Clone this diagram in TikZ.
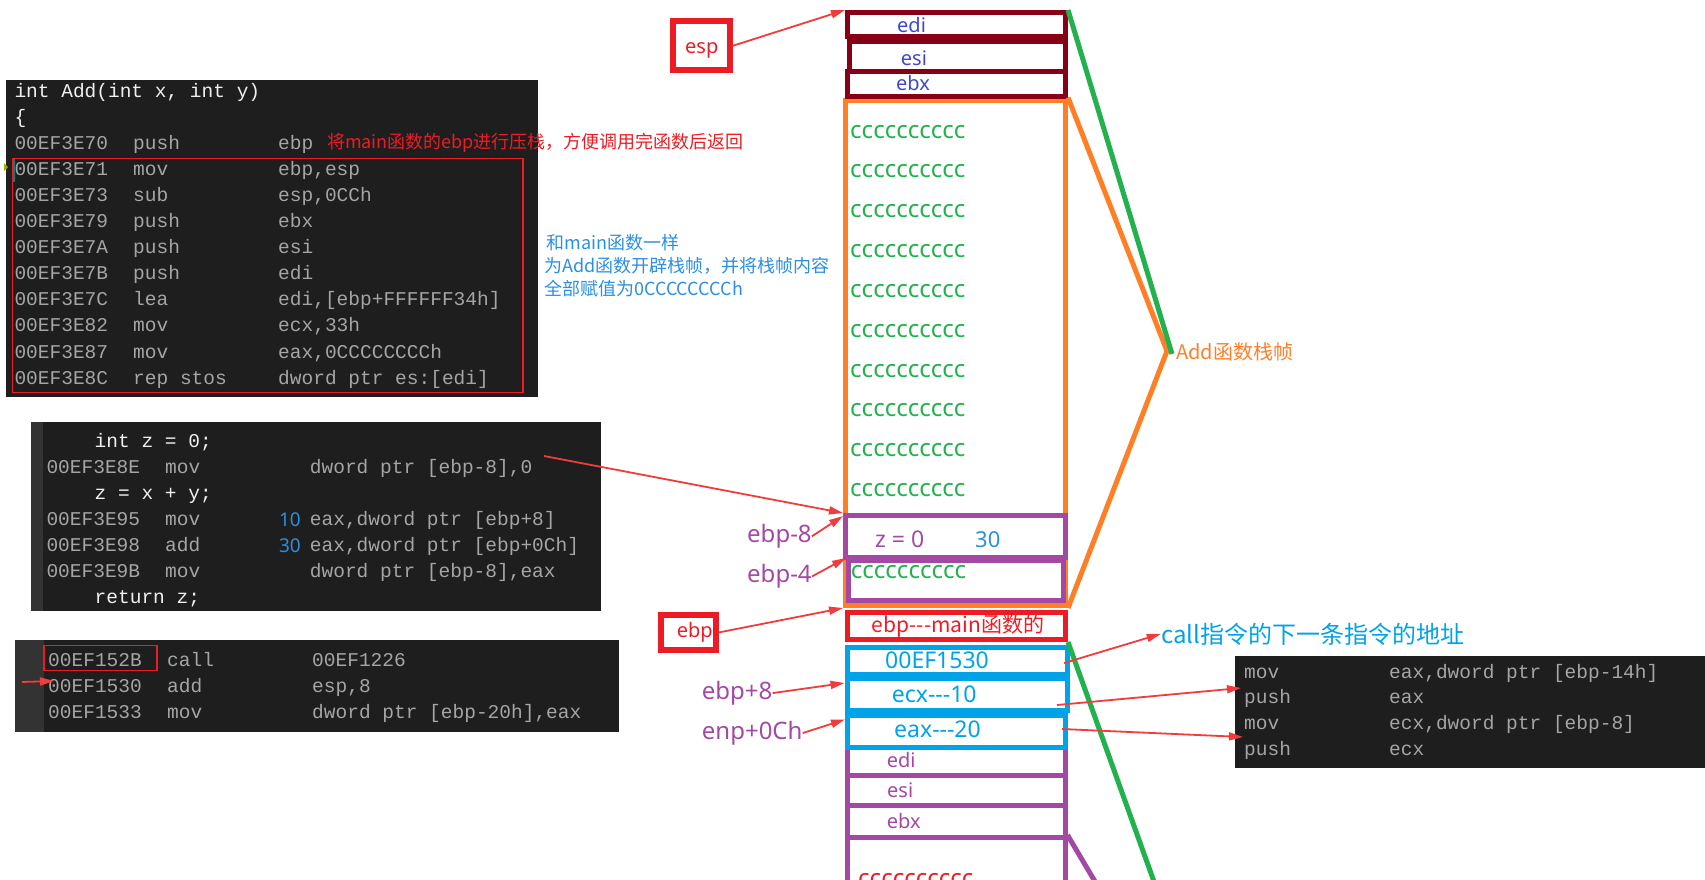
\documentclass[tikz,border=0pt]{standalone}
\usepackage{fontspec}
\setmainfont{Noto Sans}
\newfontfamily\monofnt{Liberation Mono}
\newfontfamily\cjkfnt{Noto Sans CJK SC}
\usetikzlibrary{arrows.meta}
\definecolor{CodeBg}{HTML}{1E1E1E}
\definecolor{CodeGutter}{HTML}{333333}
\definecolor{AsmGray}{HTML}{A5A5A5}
\definecolor{SrcWhite}{HTML}{F0F0F0}
\definecolor{StackMaroon}{HTML}{880015}
\definecolor{FrameOrange}{HTML}{FF7F27}
\definecolor{RangeGreen}{HTML}{22B14C}
\definecolor{SlotPurple}{HTML}{A349A4}
\definecolor{ArgBlue}{HTML}{00A2E8}
\definecolor{MarkRed}{HTML}{ED1C24}
\definecolor{ArrowRed}{HTML}{F03C3C}
\definecolor{RegBlue}{HTML}{3F48CC}
\definecolor{NoteBlue}{HTML}{2B8FE0}
\newcommand{\fsz}[1]{\fontsize{#1}{#1}\selectfont}
\newcommand{\tridash}{-\kern0pt-\kern0pt-}

\begin{document}
\begin{tikzpicture}[x=1pt,y=-1pt,
    asm/.style={anchor=base west,inner sep=0pt,font=\monofnt\fsz{19.5},text=AsmGray},
    src/.style={asm,text=SrcWhite},
    lbl/.style={anchor=base west,inner sep=0pt},
    slot/.style={draw,line width=5pt,inner sep=0pt},
    ptr/.style={draw=ArrowRed,line width=1.8pt,-{Triangle[length=14pt,width=8pt]}},
    edge/.style={line width=5pt}]
  \useasboundingbox (0,0) rectangle (1705,879);

  % code windows
  \fill[CodeBg] (6,80) rectangle (538,397);
  \fill[CodeBg] (31,422) rectangle (601,611);
  \fill[CodeGutter] (31,422) rectangle (43,611);
  \fill[CodeBg] (15,640) rectangle (619,732);
  \fill[CodeGutter] (15,640) rectangle (44,732);
  \fill[CodeBg] (1235,656) rectangle (1705,768);

  \node[src] (hdr) at (14.3,97) {int Add(int x, int y)};
  \node[src] (brace) at (14.3,123.1) {\{};
  \foreach \ln/\ad/\op/\ar in {2/00EF3E70/push/ebp,3/00EF3E71/mov/{ebp,esp},
      4/00EF3E73/sub/{esp,0CCh},5/00EF3E79/push/ebx,6/00EF3E7A/push/esi,
      7/00EF3E7B/push/edi,8/00EF3E7C/lea/{edi,[ebp+FFFFFF34h]},
      9/00EF3E82/mov/{ecx,33h},10/00EF3E87/mov/{eax,0CCCCCCCCh},
      11/00EF3E8C/rep stos/{dword ptr es:[edi]}}{
    \node[asm] (a\ln) at (14.3,97+26.1*\ln) {\ad};
    \node[asm] (o\ln) at (133,97+26.1*\ln) {\op};
    \node[asm] (r\ln) at (278,97+26.1*\ln) {\ar};
  }
  \draw[MarkRed,line width=1.2pt] (12.5,158.3) rectangle (523,392.7);
  \draw[teal,line width=2pt] (13.8,159) -- (13.8,182);
  \fill[olive!70!yellow] (4,163) -- (8,167) -- (4,171) -- cycle;
  \node[lbl,text=MarkRed,font=\cjkfnt\fsz{18}] (pushNote) at (326.8,148)
    {将main函数的ebp进行压栈，方便调用完函数后返回};

  \node[lbl,text=NoteBlue,font=\cjkfnt\fsz{18}] (noteA) at (546.7,249) {和main函数一样};
  \node[lbl,text=NoteBlue,font=\cjkfnt\fsz{18}] (noteB) at (544,272) {为Add函数开辟栈帧，并将栈帧内容};
  \node[lbl,text=NoteBlue,font=\cjkfnt\fsz{18}] (noteC) at (544,295.5) {全部赋值为0CCCCCCCCh};

  \node[src] (zDecl) at (94.5,447.3) {int z = 0;};
  \node[asm] (b1) at (46.3,473.3) {00EF3E8E};
  \node[asm] at (165,473.3) {mov};
  \node[asm] at (309.7,473.3) {dword ptr [ebp-8],0};
  \node[src] (zSum) at (94.5,499.3) {z = x + y;};
  \node[asm] (b2) at (46.3,525.3) {00EF3E95};
  \node[asm] at (165,525.3) {mov};
  \node[asm] at (309.7,525.3) {eax,dword ptr [ebp+8]};
  \node[asm] (b3) at (46.3,551.3) {00EF3E98};
  \node[asm] at (165,551.3) {add};
  \node[asm] at (309.7,551.3) {eax,dword ptr [ebp+0Ch]};
  \node[asm] (b4) at (46.3,577.3) {00EF3E9B};
  \node[asm] at (165,577.3) {mov};
  \node[asm] at (309.7,577.3) {dword ptr [ebp-8],eax};
  \node[src] (zRet) at (94.5,603.3) {return z;};
  \node[anchor=base east,inner sep=0pt,text=NoteBlue,font=\fsz{19}] (xVal) at (301,526) {10};
  \node[anchor=base east,inner sep=0pt,text=NoteBlue,font=\fsz{19}] (sumVal) at (301,552) {30};

  \node[asm] (c1) at (48,666.3) {00EF152B};
  \node[asm] at (167,666.3) {call};
  \node[asm] at (312,666.3) {00EF1226};
  \node[asm] (c2) at (48,692.6) {00EF1530};
  \node[asm] at (167,692.6) {add};
  \node[asm] at (312,692.6) {esp,8};
  \node[asm] (c3) at (48,718.9) {00EF1533};
  \node[asm] at (167,718.9) {mov};
  \node[asm] at (312,718.9) {dword ptr [ebp-20h],eax};
  \draw[MarkRed,line width=1.2pt] (44,645.7) rectangle (157,670.7);

  \node[asm] (d1) at (1244,678) {mov};
  \node[asm] at (1389,678) {eax,dword ptr [ebp-14h]};
  \node[asm] (d2) at (1244,703.8) {push};
  \node[asm] at (1389,703.8) {eax};
  \node[asm] (d3) at (1244,729.6) {mov};
  \node[asm] at (1389,729.6) {ecx,dword ptr [ebp-8]};
  \node[asm] (d4) at (1244,755.4) {push};
  \node[asm] at (1389,755.4) {ecx};

  % stack
  \node[slot,draw=FrameOrange,minimum width=220pt,minimum height=505.5pt] (addFrame) at (955.5,352.75) {};
  \node[slot,draw=StackMaroon,minimum width=218pt,minimum height=24pt] (tEdi) at (956.5,24.5) {};
  \node[slot,draw=StackMaroon,minimum width=216pt,minimum height=30pt] (tEsi) at (957,56.5) {};
  \node[slot,draw=StackMaroon,minimum width=218pt,minimum height=25pt] (tEbx) at (956.5,84) {};
  \node[slot,draw=SlotPurple,minimum width=220pt,minimum height=42pt] (zSlot) at (955.5,536.5) {};
  \node[slot,draw=SlotPurple,minimum width=214.5pt,minimum height=40pt] (ccSlot) at (955.75,580.5) {};
  \node[slot,draw=MarkRed,minimum width=218.5pt,minimum height=27pt] (retEbp) at (956.25,626) {};
  \node[slot,draw=SlotPurple,minimum width=217.5pt,minimum height=28.5pt] (mEdi) at (956.25,761.25) {};
  \node[slot,draw=SlotPurple,minimum width=217.5pt,minimum height=30pt] (mEsi) at (956.25,790.5) {};
  \node[slot,draw=SlotPurple,minimum width=217.5pt,minimum height=32pt] (mEbx) at (956.25,821.5) {};
  \node[slot,draw=SlotPurple,minimum width=217.5pt,minimum height=82.5pt] (mRest) at (956.25,878.75) {};
  \node[slot,draw=ArgBlue,minimum width=220.5pt,minimum height=27.5pt] (retAddr) at (957.25,660.75) {};
  \node[slot,draw=ArgBlue,minimum width=220.5pt,minimum height=32pt] (argX) at (957.25,694.5) {};
  \node[slot,draw=ArgBlue,minimum width=217.5pt,minimum height=32pt] (argY) at (956.25,731) {};

  \node[lbl,text=RegBlue,font=\fsz{20}] at (897,32) {edi};
  \node[lbl,text=RegBlue,font=\fsz{20}] at (900.7,65) {esi};
  \node[lbl,text=RegBlue,font=\fsz{20}] at (896,90.7) {ebx};
  \foreach \k in {0,...,9}
    \node[lbl,text=RangeGreen,font=\fsz{24}] (fill\k) at (850,138+39.85*\k) {cccccccccc};
  \node[lbl,text=SlotPurple,font=\fsz{23}] (zTxt) at (875,547) {z = 0};
  \node[lbl,text=NoteBlue,font=\fsz{22}] (zVal) at (975,547) {30};
  \node[lbl,text=RangeGreen,font=\fsz{24}] (ccTxt) at (850.7,578.2) {cccccccccc};
  \node[lbl,text=MarkRed,font=\cjkfnt\fsz{21}] (retEbpTxt) at (871.7,632) {ebp\tridash main函数的};
  \node[lbl,text=ArgBlue,font=\fsz{23}] (retAddrTxt) at (885,668) {00EF1530};
  \node[lbl,text=ArgBlue,font=\fsz{23}] (argXTxt) at (891.7,702) {ecx\tridash 10};
  \node[lbl,text=ArgBlue,font=\fsz{23}] (argYTxt) at (894,737) {eax\tridash 20};
  \node[lbl,text=SlotPurple,font=\fsz{20}] at (886.7,767) {edi};
  \node[lbl,text=SlotPurple,font=\fsz{20}] at (887,797) {esi};
  \node[lbl,text=SlotPurple,font=\fsz{20}] at (886.7,828) {ebx};
  \node[lbl,text=MarkRed,font=\fsz{24}] (mFill) at (858,886) {cccccccccc};

  \coordinate (frameTip) at (1167,351);
  \coordinate (greenTip) at (1172,354);
  \coordinate (greenEnd) at (1157,890);
  \coordinate (mainEnd) at (1100,890);
  \draw[FrameOrange,edge] (addFrame.north east) -- (frameTip) -- (addFrame.south east);
  \draw[RangeGreen,edge] (tEdi.north east) -- (greenTip);
  \draw[RangeGreen,edge] (retEbp.south east) -- (greenEnd);
  \draw[SlotPurple,edge] (mRest.north east) -- (mainEnd);
  \node[lbl,text=FrameOrange,font=\cjkfnt\fsz{20}] (frameLbl) at (1176,359.3) {Add函数栈帧};

  % pointers
  \node[draw=MarkRed,line width=6pt,minimum width=56.7pt,minimum height=49pt,inner sep=0pt] (espBox) at (701.4,45.8) {};
  \node[lbl,text=MarkRed,font=\fsz{20}] at (685,53.5) {esp};
  \node[draw=MarkRed,line width=6pt,minimum width=55pt,minimum height=35.3pt,inner sep=0pt] (ebpBox) at (688.5,632.4) {};
  \node[lbl,text=MarkRed,font=\fsz{20}] at (676.7,637) {ebp};
  \node[lbl,text=SlotPurple,font=\fsz{24}] (lblZ) at (747,542.5) {ebp-8};
  \node[lbl,text=SlotPurple,font=\fsz{24}] (lblCc) at (747,582.7) {ebp-4};
  \node[lbl,text=SlotPurple,font=\fsz{24}] (lblX) at (701.7,699.3) {ebp+8};
  \node[lbl,text=SlotPurple,font=\fsz{24}] (lblY) at (701.7,739.3) {enp+0Ch};
  \node[lbl,text=ArgBlue,font=\cjkfnt\fsz{24}] (callLbl) at (1160.8,643) {call指令的下一条指令的地址};

  \coordinate (zStore) at (544,456);
  \coordinate (retFrom) at (1064,663);
  \coordinate (xFrom) at (1057,705);
  \coordinate (xTo) at (1241,688);
  \coordinate (yFrom) at (1062,729);
  \coordinate (yTo) at (1243,737);
  \coordinate (retMark) at (22,682);
  \coordinate (retMarkTo) at (54,681);
  \draw[ptr] (espBox.east) -- (tEdi.north west);
  \draw[ptr] (zStore) -- (zSlot.north west);
  \draw[ptr] (lblZ.east) -- ([yshift=-3pt]zSlot.north west);
  \draw[ptr] (lblCc.east) -- (ccSlot.north west);
  \draw[ptr] (ebpBox.east) -- (addFrame.south west);
  \draw[ptr] (lblX.east) -- ([yshift=-7pt]argX.north west);
  \draw[ptr] (lblY.east) -- ([yshift=-7pt]argY.north west);
  \draw[ptr] (retFrom) -- (callLbl.west);
  \draw[ptr] (xFrom) -- (xTo);
  \draw[ptr] (yFrom) -- (yTo);
  \draw[ptr] (retMark) -- (retMarkTo);
\end{tikzpicture}
\end{document}
